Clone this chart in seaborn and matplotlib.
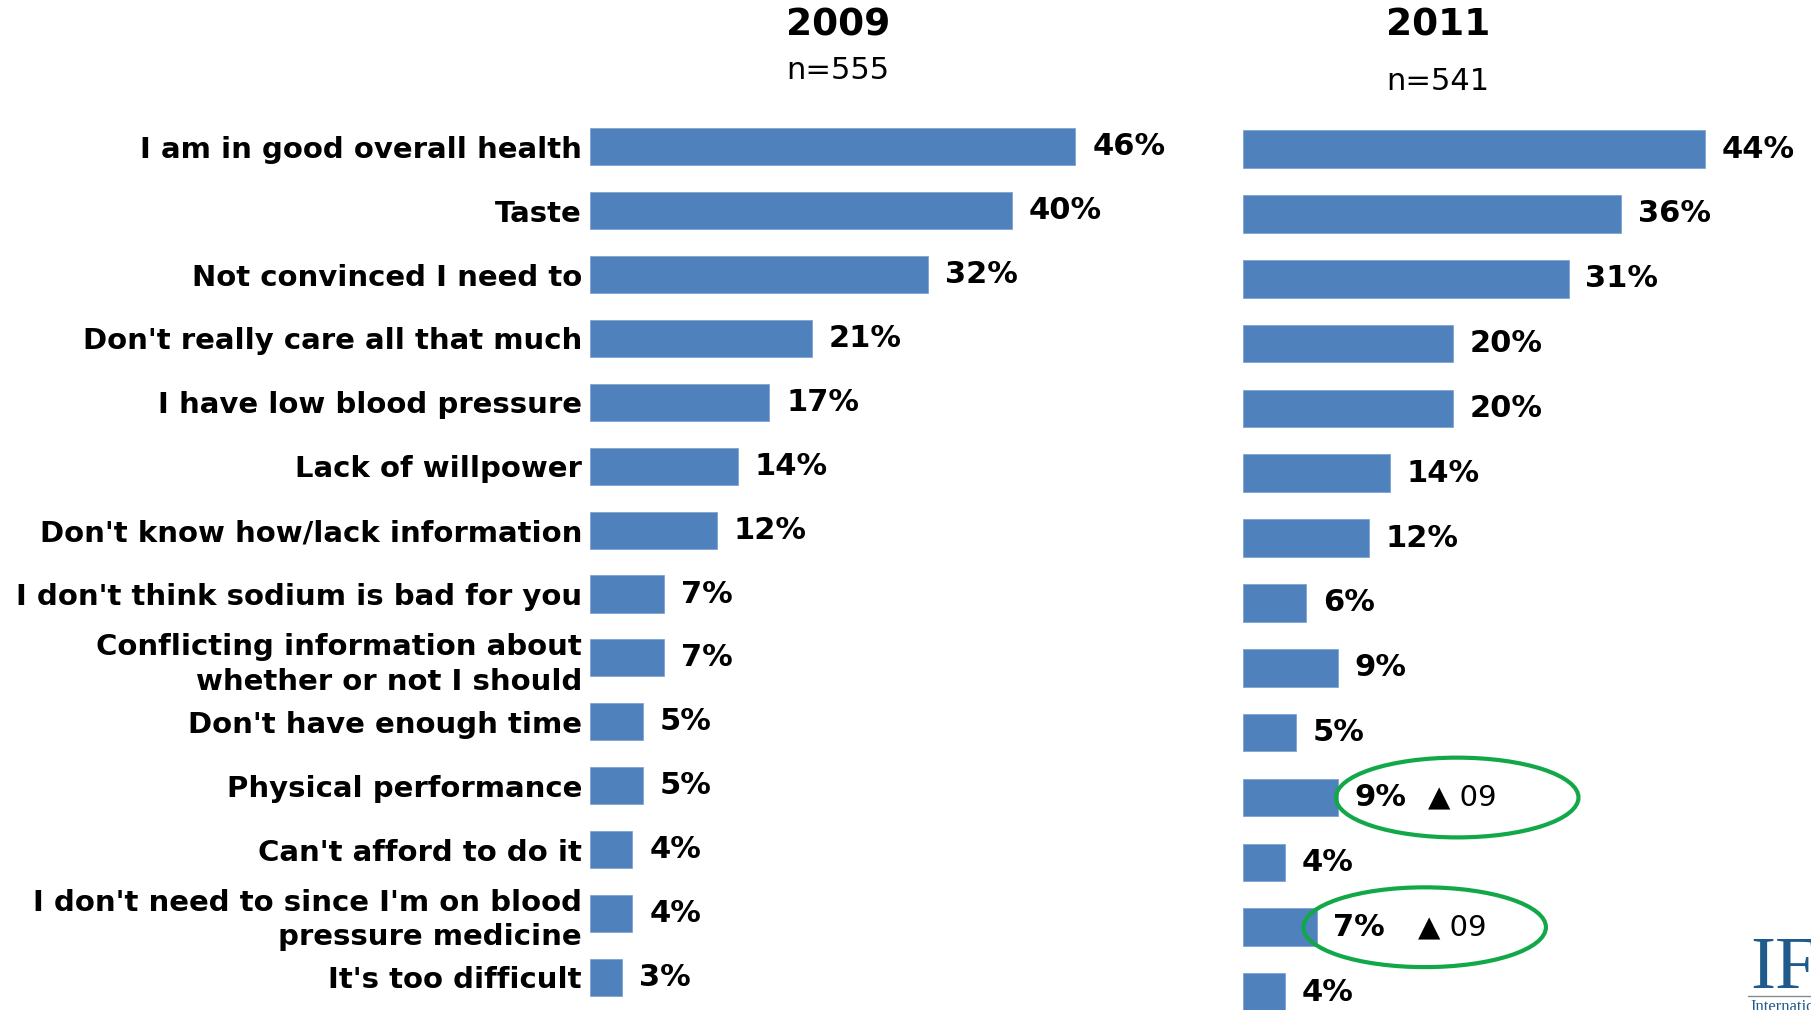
import matplotlib
matplotlib.use("Agg")
import matplotlib.pyplot as plt
from matplotlib.patches import Ellipse
from matplotlib.lines import Line2D
import seaborn as sns
import pandas as pd

# ---------------- data ----------------
reasons = [
    "I am in good overall health",
    "Taste",
    "Not convinced I need to",
    "Don't really care all that much",
    "I have low blood pressure",
    "Lack of willpower",
    "Don't know how/lack information",
    "I don't think sodium is bad for you",
    "Conflicting information about\nwhether or not I should",
    "Don't have enough time",
    "Physical performance",
    "Can't afford to do it",
    "I don't need to since I'm on blood\npressure medicine",
    "It's too difficult",
]
pct_2009 = [46, 40, 32, 21, 17, 14, 12, 7, 7, 5, 5, 4, 4, 3]
pct_2011 = [44, 36, 31, 20, 20, 14, 12, 6, 9, 5, 9, 4, 7, 4]
years = ["2009", "2011"]
sample_sizes = ["n=555", "n=541"]
sig_reasons = ["Physical performance",
               "I don't need to since I'm on blood\npressure medicine"]
sig_text = "\u25B2 09"

# ---------------- style ----------------
BLUE = "#4F81BD"
GREEN = "#12A84A"
sns.set_theme(style="white")
plt.rcParams["font.family"] = ["DejaVu Sans"]

W, H = 1811, 1010
fig = plt.figure(figsize=(W / 100, H / 100), dpi=100)
fig.patch.set_facecolor("white")

ax1 = fig.add_axes([590 / W, 1 - 1009.4 / H, 527.5 / W, 894.65 / H])
ax2 = fig.add_axes([1243 / W, 1 - 1024.5 / H, 525 / W, 907.9 / H])

df09 = pd.DataFrame({"reason": reasons, "pct": pct_2009})
df11 = pd.DataFrame({"reason": reasons, "pct": pct_2011})

for ax, df in [(ax1, df09), (ax2, df11)]:
    sns.barplot(data=df, x="pct", y="reason", ax=ax, color=BLUE,
                saturation=1, width=0.58, orient="h", edgecolor="#7FA3D3",
                linewidth=0.6)
    ax.set_xlim(0, 50)
    ax.set_ylim(len(reasons) - 0.5, -0.5)
    ax.set_xticks([])
    ax.set_xlabel("")
    ax.set_ylabel("")
    for s in ax.spines.values():
        s.set_visible(False)
    ax.set_facecolor("none")
    ax.bar_label(ax.containers[0],
                 labels=[f"{v}%" for v in df["pct"]],
                 padding=12.2, fontsize=22, fontweight="bold", color="black")

ax1.tick_params(axis="y", length=0, pad=5.8, labelsize=21, labelcolor="black")
for lbl in ax1.get_yticklabels():
    lbl.set_fontweight("bold")
    lbl.set_linespacing(1.3)
ax2.tick_params(axis="y", length=0, labelleft=False)

# significance markers and circles on 2011 panel
tri_offsets = [65, 73]        # points from bar end
ell_offsets = [11.4, 10.3]    # data units from bar end
for reason, toff, eoff in zip(sig_reasons, tri_offsets, ell_offsets):
    i = reasons.index(reason)
    v = pct_2011[i]
    ax2.annotate(sig_text, xy=(v, i), xytext=(toff, 0),
                 textcoords="offset points", fontsize=21, ha="left",
                 va="center", color="black")
    ax2.add_patch(Ellipse((v + eoff, i), width=23.1, height=1.23,
                          fill=False, edgecolor=GREEN, linewidth=3.0,
                          clip_on=False))

# titles
title_x = [838 / W, 1438 / W]
n_y = [1 - 70 / H, 1 - 81 / H]
for yr, n, tx, ny in zip(years, sample_sizes, title_x, n_y):
    fig.text(tx, 1 - 25 / H, yr, fontsize=27, fontweight="bold",
             ha="center", va="center", color="black")
    fig.text(tx, ny, n, fontsize=22, ha="center", va="center",
             color="black")

# logo fragment (bottom-right)
fig.text(1750 / W, 1 - 988 / H, "IFT", family=["Liberation Serif"],
         fontsize=54, color="#1F5A8C", ha="left", va="baseline")
fig.add_artist(Line2D([1748 / W, 1], [1 - 996 / H] * 2, color="#8a8a8a",
                      lw=1))
fig.text(1750 / W, 1 - 999 / H, "International", family=["Liberation Serif"],
         fontsize=12, color="#1F5A8C", ha="left", va="top")

fig.savefig("out.png", dpi=100, facecolor="white")
